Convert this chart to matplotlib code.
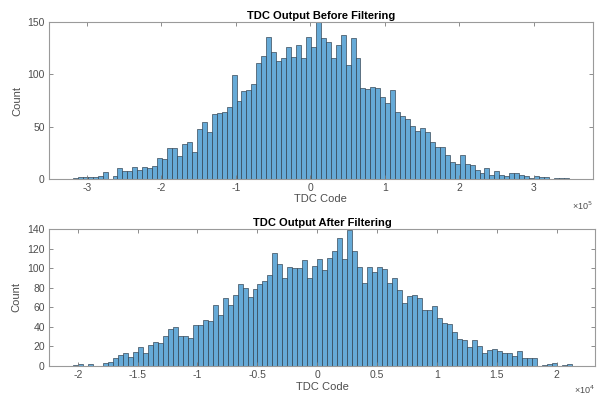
import numpy as np
import matplotlib
matplotlib.use("Agg")
import matplotlib.pyplot as plt
from matplotlib.ticker import FuncFormatter

plt.rcParams['font.family'] = ['Liberation Sans', 'DejaVu Sans']

# Before filtering: 100 bins between data min and max (TDC code)
before_min = -3.19e5
before_max = 3.47e5
before_counts = [
    1, 2, 2, 2, 2, 3, 7, 0, 3, 10,
    8, 8, 11, 9, 11, 10, 12, 20, 19, 30,
    30, 22, 33, 35, 26, 48, 54, 45, 62, 63,
    64, 69, 99, 75, 84, 85, 91, 111, 118, 136,
    121, 113, 116, 126, 117, 128, 116, 136, 126, 150,
    135, 131, 116, 128, 138, 109, 135, 116, 87, 86,
    88, 87, 78, 73, 85, 64, 60, 57, 51, 46,
    49, 45, 35, 31, 31, 23, 16, 14, 23, 14,
    13, 9, 6, 10, 4, 8, 4, 3, 6, 6,
    4, 3, 1, 3, 2, 2, 0, 1, 1, 1,
]

# After filtering
after_min = -2.04e4
after_max = 2.125e4
after_counts = [
    1, 2, 0, 2, 0, 0, 3, 4, 8, 11,
    13, 9, 14, 19, 13, 21, 25, 24, 31, 38,
    40, 31, 31, 29, 42, 42, 47, 46, 62, 52,
    69, 62, 73, 84, 80, 70, 79, 84, 87, 93,
    115, 104, 90, 101, 100, 100, 108, 90, 102, 109,
    98, 110, 117, 131, 109, 139, 117, 101, 85, 101,
    96, 101, 99, 85, 90, 78, 64, 71, 73, 69,
    57, 57, 61, 49, 44, 43, 35, 28, 27, 19,
    27, 20, 13, 16, 17, 15, 13, 13, 10, 15,
    8, 8, 8, 0, 1, 2, 3, 0, 1, 2,
]

face = '#66aad7'
edge = '#2b3a48'
axis_gray = '#7a7a7a'
text_gray = '#4d4d4d'

fig = plt.figure(figsize=(6.0, 3.95), dpi=100)


def draw_hist(ax, lo, hi, counts, scale, xlim, ylim, yticks, xticks, title, exp):
    edges = np.linspace(lo, hi, len(counts) + 1)
    ax.bar(edges[:-1], counts, width=np.diff(edges), align='edge',
           color=face, edgecolor=edge, linewidth=0.45)
    ax.set_xlim(xlim)
    ax.set_ylim(ylim)
    ax.set_yticks(yticks)
    ax.set_xticks(xticks)
    ax.xaxis.set_major_formatter(FuncFormatter(lambda v, p: f"{v / scale:g}".replace('-', '-')))
    ax.tick_params(direction='in', length=3, width=0.6, color=axis_gray,
                   labelsize=7.5, labelcolor=text_gray, top=True, right=True, pad=3)
    for s in ax.spines.values():
        s.set_color('#9a9a9a')
        s.set_linewidth(0.8)
    ax.set_title(title, fontsize=8, fontweight='bold', pad=2)
    ax.set_xlabel('TDC Code', fontsize=8, color=text_gray, labelpad=1)
    ax.set_ylabel('Count', fontsize=8, color=text_gray, labelpad=4)
    ax.text(1.0, -0.17, '\u00d710$^{%d}$' % exp, transform=ax.transAxes,
            fontsize=6.5, color=text_gray, ha='right', va='center')


ax1 = fig.add_axes([0.0817, 0.547, 0.906, 0.397])
draw_hist(ax1, before_min, before_max, before_counts, 1e5,
          (-3.51e5, 3.79e5), (0, 150), [0, 50, 100, 150],
          [-3e5, -2e5, -1e5, 0, 1e5, 2e5, 3e5],
          'TDC Output Before Filtering', 5)

ax2 = fig.add_axes([0.0817, 0.0734, 0.91, 0.347])
draw_hist(ax2, after_min, after_max, after_counts, 1e4,
          (-2.24e4, 2.32e4), (0, 140), list(range(0, 141, 20)),
          [-2e4, -1.5e4, -1e4, -0.5e4, 0, 0.5e4, 1e4, 1.5e4, 2e4],
          'TDC Output After Filtering', 4)

fig.savefig('out.png', dpi=100)
